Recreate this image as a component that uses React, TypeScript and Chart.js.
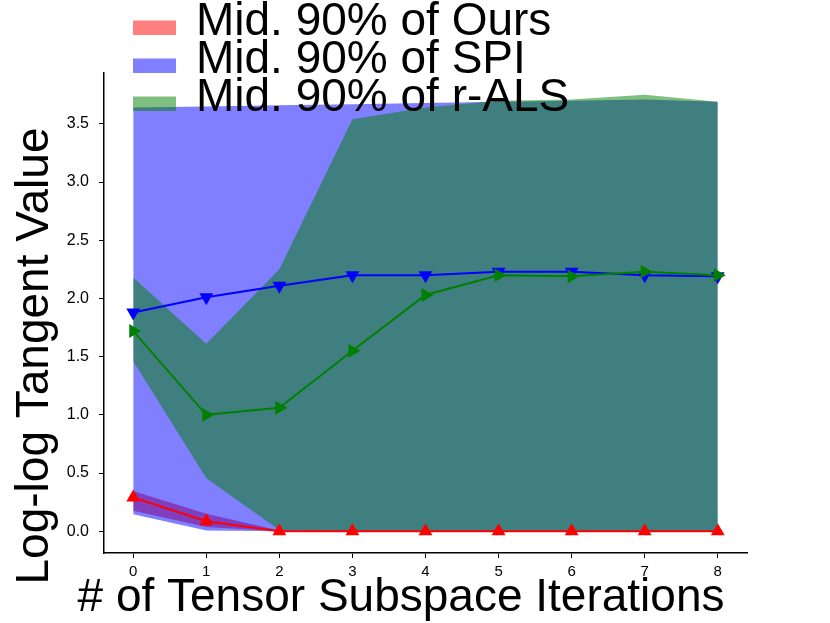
import { useEffect, useRef } from 'react';
import { Chart, registerables } from 'chart.js';

Chart.register(...registerables);

// ---- data ----
const iterations = [0, 1, 2, 3, 4, 5, 6, 7, 8];

const oursMedian = [0.29, 0.085, 0.0, 0.0, 0.0, 0.0, 0.0, 0.0, 0.0];
const oursLow = [0.175, 0.035, 0.0, 0.0, 0.0, 0.0, 0.0, 0.0, 0.0];
const oursHigh = [0.345, 0.15, 0.005, 0.0, 0.0, 0.0, 0.0, 0.0, 0.0];

const spiMedian = [1.88, 2.01, 2.11, 2.2, 2.2, 2.23, 2.23, 2.2, 2.19];
const spiLow = [0.145, 0.005, 0.0, 0.0, 0.0, 0.0, 0.0, 0.0, 0.0];
const spiHigh = [3.64, 3.65, 3.66, 3.67, 3.68, 3.69, 3.7, 3.71, 3.69];

const alsMedian = [1.72, 1.0, 1.06, 1.55, 2.03, 2.2, 2.19, 2.23, 2.2];
const alsLow = [1.46, 0.455, 0.01, 0.0, 0.0, 0.0, 0.0, 0.0, 0.0];
const alsHigh = [2.18, 1.61, 2.25, 3.54, 3.64, 3.7, 3.71, 3.75, 3.69];

const yTicks = [0, 0.5, 1.0, 1.5, 2.0, 2.5, 3.0, 3.5];

const legendLabels = ['Mid. 90% of Ours', 'Mid. 90% of SPI', 'Mid. 90% of r-ALS'];
const xTitle = '# of Tensor Subspace Iterations';
const yTitle = 'Log-log Tangent Value';

const RED = 'rgb(255,0,0)';
const BLUE = 'rgb(0,0,255)';
const GREEN = 'rgb(0,128,0)';
const RED_A = 'rgba(255,0,0,0.5)';
const BLUE_A = 'rgba(0,0,255,0.5)';
const GREEN_A = 'rgba(0,128,0,0.5)';

const FONT = '"Liberation Sans", Arial, Helvetica, sans-serif';

const pts = (arr: number[]) => arr.map((v, i) => ({ x: iterations[i], y: v }));

const bandUpper = (label: string, data: number[], color: string) => ({
  label,
  data: pts(data),
  borderWidth: 0,
  borderColor: 'rgba(0,0,0,0)',
  backgroundColor: color,
  pointRadius: 0,
  fill: '+1',
  tension: 0,
});
const bandLower = (label: string, data: number[]) => ({
  label,
  data: pts(data),
  borderWidth: 0,
  borderColor: 'rgba(0,0,0,0)',
  pointRadius: 0,
  fill: false,
  tension: 0,
});
const line = (label: string, data: number[], color: string, rotation: number) => ({
  label,
  data: pts(data),
  borderWidth: 2,
  borderColor: color,
  backgroundColor: color,
  pointBackgroundColor: color,
  pointBorderColor: color,
  pointStyle: 'triangle',
  pointRotation: rotation,
  pointRadius: 8,
  pointBorderWidth: 0,
  fill: false,
  tension: 0,
});

const overlayPlugin = {
  id: 'overlayText',
  afterDraw(chart: any) {
    const ctx = chart.ctx;
    ctx.save();
    // legend
    const colors = [RED_A, BLUE_A, GREEN_A];
    ctx.font = `46px ${FONT}`;
    ctx.textBaseline = 'alphabetic';
    ctx.textAlign = 'left';
    legendLabels.forEach((lab, i) => {
      const base = 35 + i * 38;
      ctx.fillStyle = colors[i];
      ctx.fillRect(133, base - 14.5, 43, 14.5);
      ctx.fillStyle = '#000';
      ctx.fillText(lab, 196, base);
    });
    // x title
    ctx.textAlign = 'center';
    ctx.fillText(xTitle, 401, 611);
    // y title
    ctx.translate(48, 356);
    ctx.rotate(-Math.PI / 2);
    ctx.fillText(yTitle, 0, 0);
    ctx.restore();
  },
};

export default function App() {
  const ref = useRef<HTMLCanvasElement | null>(null);

  useEffect(() => {
    if (!ref.current) return;
    const chart = new Chart(ref.current, {
      type: 'line',
      data: {
        datasets: [
          line('r-ALS', alsMedian, GREEN, 90),
          line('SPI', spiMedian, BLUE, 180),
          line('Ours', oursMedian, RED, 0),
          bandUpper('r-ALS high', alsHigh, GREEN_A),
          bandLower('r-ALS low', alsLow),
          bandUpper('SPI high', spiHigh, BLUE_A),
          bandLower('SPI low', spiLow),
          bandUpper('Ours high', oursHigh, RED_A),
          bandLower('Ours low', oursLow),
        ] as any,
      },
      plugins: [overlayPlugin],
      options: {
        animation: false,
        responsive: true,
        maintainAspectRatio: false,
        layout: { padding: { top: 73, right: 83, left: 0, bottom: 0 } },
        plugins: {
          legend: { display: false },
          tooltip: { enabled: false },
        },
        scales: {
          x: {
            type: 'linear',
            min: -0.4,
            max: 8.4,
            afterBuildTicks: (scale: any) => {
              scale.ticks = iterations.map((v) => ({ value: v }));
            },
            afterFit: (scale: any) => {
              scale.height = 70;
            },
            grid: {
              display: true,
              drawOnChartArea: false,
              drawTicks: true,
              tickLength: 5,
              tickColor: '#000',
              tickWidth: 1,
            },
            border: { display: true, color: '#000', width: 1.5 },
            ticks: {
              color: '#000',
              font: { family: FONT, size: 15 },
              padding: 5,
              maxRotation: 0,
              callback: (v: any) => String(v),
            },
          },
          y: {
            type: 'linear',
            min: -0.1875,
            max: 3.9375,
            afterBuildTicks: (scale: any) => {
              scale.ticks = yTicks.map((v) => ({ value: v }));
            },
            afterFit: (scale: any) => {
              scale.width = 104;
            },
            grid: {
              display: true,
              drawOnChartArea: false,
              drawTicks: true,
              tickLength: 5,
              tickColor: '#000',
              tickWidth: 1,
            },
            border: { display: true, color: '#000', width: 1.5 },
            ticks: {
              color: '#000',
              font: { family: FONT, size: 16 },
              padding: 10,
              callback: (v: any) => Number(v).toFixed(1),
            },
          },
        },
      } as any,
    });
    return () => chart.destroy();
  }, []);

  return (
    <div style={{ position: 'fixed', left: 0, top: 0, width: 830, height: 623, background: '#fff' }}>
      <canvas ref={ref} />
    </div>
  );
}
